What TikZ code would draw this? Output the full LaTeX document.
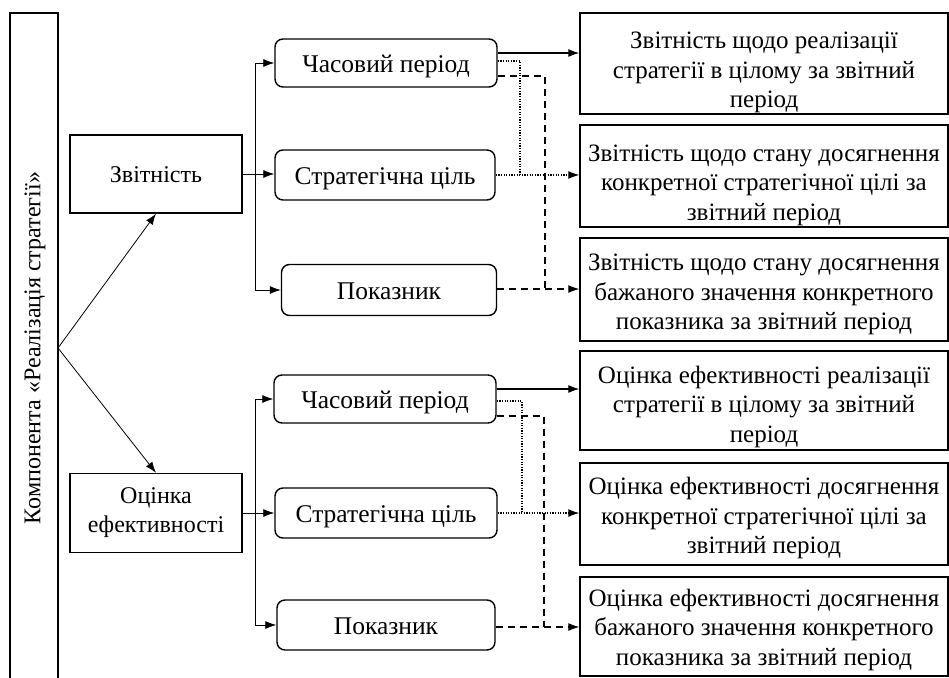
\documentclass[tikz,border=0pt]{standalone}
\usepackage{fontspec}
\setmainfont{Liberation Serif}
\usetikzlibrary{arrows.meta,calc}
\begin{document}
\begin{tikzpicture}[x=1pt,y=-1pt,
  every node/.style={font=\fontsize{24}{29}\selectfont},
  box/.style={draw,line width=1.4pt,align=center,inner sep=0pt},
  rbox/.style={box,rounded corners=8pt,font=\fontsize{25.5}{30}\selectfont,text height=22pt,text depth=4pt},
  obox/.style={draw,line width=1.4pt,inner sep=0pt,minimum width=368pt},
  otext/.style={align=center,inner sep=0pt,font=\fontsize{25}{29.5}\selectfont},
  conn/.style={line width=0.8pt},
  arr/.style={conn,-{Latex[length=11pt,width=8pt]}},
  dotline/.style={line width=1.1pt,dash pattern=on 1.2pt off 1.4pt},
  dashline/.style={line width=1.1pt,dash pattern=on 7pt off 5pt}]
\useasboundingbox (0,0) rectangle (949,677);
% left tall box
\draw[line width=1.8pt] (10,690) -- (10,13) -- (58,13) -- (58,690);
\node[rotate=90] (comp) at (35,348) {Компонента «Реалізація стратегії»};
\coordinate (root) at (58,348);
% top group
\node[box,minimum width=172pt,minimum height=78pt,text height=20pt,text depth=3pt] (zv) at (156,174) {Звітність};
\node[rbox,minimum width=222pt,minimum height=48pt] (t1) at (386,63) {Часовий період};
\node[rbox,minimum width=220pt,minimum height=50pt] (s1) at (385,175) {Стратегічна ціль};
\node[rbox,minimum width=215pt,minimum height=51pt] (p1) at (389,290) {Показник};
\node[obox,minimum height=101pt] (r1) at (764,63.5) {};
\node[otext] (r1t) at ([yshift=-9pt]r1.center) {Звітність щодо реалізації\\стратегії в цілому за звітний\\період};
\node[obox,minimum height=102pt] (r2) at (764,176) {};
\node[otext] (r2t) at ([yshift=-9pt]r2.center) {Звітність щодо стану досягнення\\конкретної стратегічної цілі за\\звітний період};
\node[obox,minimum height=103pt] (r3) at (764,289.5) {};
\node[otext] (r3t) at ([yshift=-5pt]r3.center) {Звітність щодо стану досягнення\\бажаного значення конкретного\\показника за звітний період};
% bottom group
\node[box,minimum width=172pt,minimum height=79pt] (oc) at (156,513) {Оцінка\\ефективності};
\node[rbox,minimum width=222pt,minimum height=48pt] (t2) at (385,399) {Часовий період};
\node[rbox,minimum width=222pt,minimum height=50pt] (s2) at (386,513) {Стратегічна ціль};
\node[rbox,minimum width=218pt,minimum height=50pt] (p2) at (386,625) {Показник};
\node[obox,minimum height=99pt] (r4) at (764,400.5) {};
\node[otext] (r4t) at ([yshift=-6pt]r4.center) {Оцінка ефективності реалізації\\стратегії в цілому за звітний\\період};
\node[obox,minimum height=102pt] (r5) at (764,514) {};
\node[otext] (r5t) at ([yshift=-4pt]r5.center) {Оцінка ефективності досягнення\\конкретної стратегічної цілі за\\звітний період};
\node[obox,minimum height=99pt] (r6) at (764,626.5) {};
\node[otext] (r6t) at ([yshift=-3pt]r6.center) {Оцінка ефективності досягнення\\бажаного значення конкретного\\показника за звітний період};
% root arrows
\draw[arr] (root) -- (zv.south);
\draw[arr] (root) -- (oc.north);
% trunks
\draw[arr] (zv.east) -- (zv.east -| s1.west);
\draw[arr] (zv.east) -- ++(13,0) |- (t1.west);
\draw[arr] (zv.east) -- ++(13,0) |- (p1.west);
\draw[arr] (oc.east) -- (oc.east -| s2.west);
\draw[arr] (oc.east) -- ++(13,0) |- (t2.west);
\draw[arr] (oc.east) -- ++(13,0) |- (p2.west);
% top outputs
\draw[arr,line width=1.3pt] ([yshift=10pt]t1.east) -- ([yshift=10pt]t1.east -| r1.west);
\draw[dotline] ([yshift=2pt]t1.east) -| (520,175);
\draw[dotline,-{Latex[length=11pt,width=8pt]}] (s1.east) -- (s1.east -| r2.west);
\draw[dashline] ([yshift=-13pt]t1.east) -| (545,289);
\draw[dashline,-{Latex[length=11pt,width=8pt]}] ([yshift=1pt]p1.east) -- ([yshift=1pt]p1.east -| r3.west);
% bottom outputs
\draw[arr,line width=1.3pt] ([yshift=10pt]t2.east) -- ([yshift=10pt]t2.east -| r4.west);
\draw[dotline] ([yshift=-2pt]t2.east) -| (522,513);
\draw[dotline,-{Latex[length=11pt,width=8pt]}] (s2.east) -- (s2.east -| r5.west);
\draw[dashline] ([yshift=-17pt]t2.east) -| (544,627);
\draw[dashline,-{Latex[length=11pt,width=8pt]}] ([yshift=-2pt]p2.east) -- ([yshift=-2pt]p2.east -| r6.west);
\end{tikzpicture}
\end{document}
